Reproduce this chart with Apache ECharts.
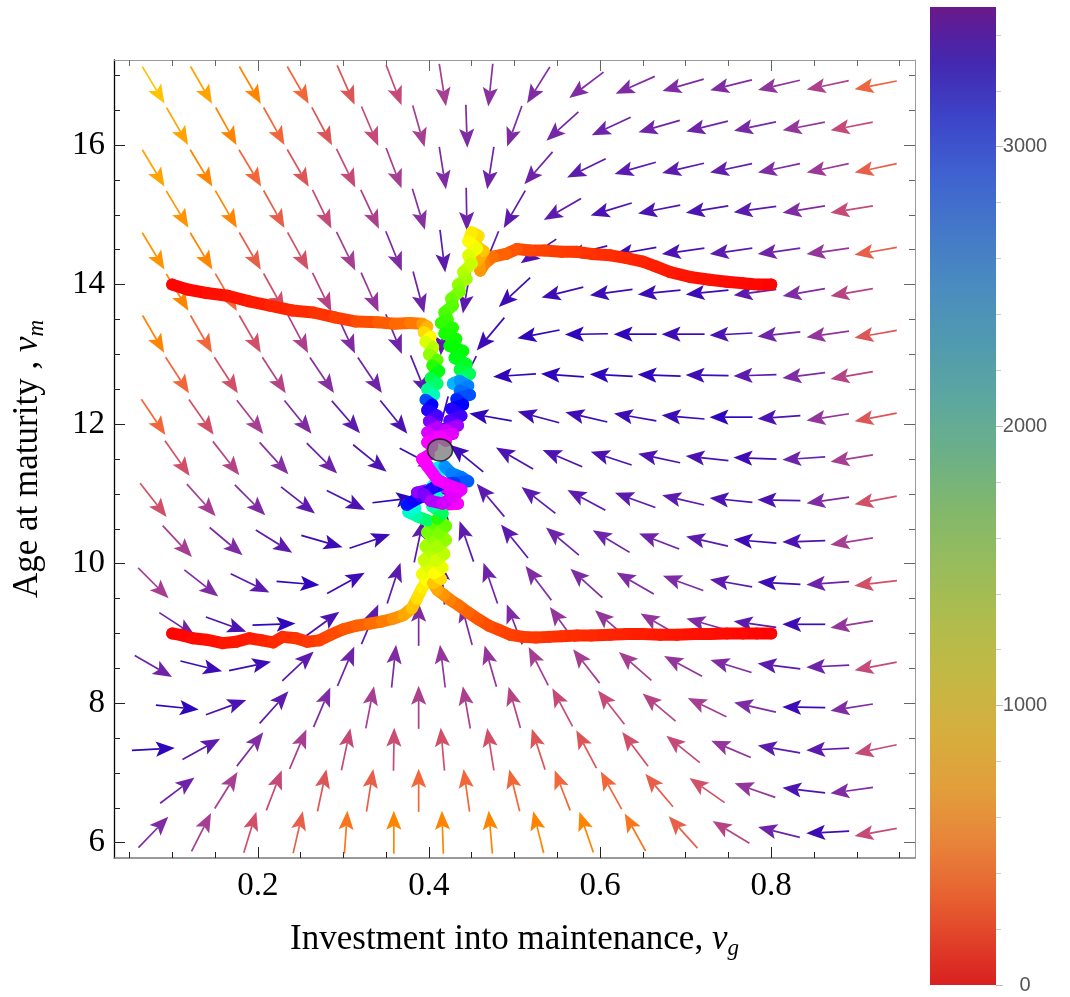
<!DOCTYPE html>
<html>
<head>
<meta charset="utf-8">
<script src="https://cdn.jsdelivr.net/npm/echarts/dist/echarts.min.js"></script>
<style>
  html, body { margin: 0; padding: 0; background: #fff; }
  #chart { width: 1070px; height: 997px; }
</style>
</head>
<body>
<div id="chart"></div>
<script>
// ---- axis ticks ----
const xMajor = [0.2, 0.4, 0.6, 0.8];
const xMinor = [0.05, 0.1, 0.15, 0.25, 0.3, 0.35, 0.45, 0.5, 0.55, 0.65, 0.7, 0.75, 0.85, 0.9, 0.95];
const yMajor = [6, 8, 10, 12, 14, 16];
const yMinor = [6.5, 7, 7.5, 8.5, 9, 9.5, 10.5, 11, 11.5, 12.5, 13, 13.5, 14.5, 15, 15.5, 16.5, 17];
const cbarMajor = [0, 1000, 2000, 3000];
const cbarMinor = [200, 400, 600, 800, 1200, 1400, 1600, 1800, 2200, 2400, 2600, 2800, 3200, 3400];

// ---- vector field grid (staggered rows) ----
const rowY = [16.86, 16.27, 15.67, 15.08, 14.48, 13.89, 13.29, 12.70, 12.10, 11.51,
              10.91, 10.32, 9.72, 9.13, 8.53, 7.94, 7.34, 6.75, 6.15];
const longCols = [0.078, 0.134, 0.191, 0.247, 0.303, 0.359, 0.416, 0.472,
                  0.528, 0.584, 0.641, 0.697, 0.753, 0.809, 0.866, 0.922];
const shortCols = [0.106, 0.163, 0.219, 0.275, 0.331, 0.388, 0.444, 0.500,
                   0.556, 0.613, 0.669, 0.725, 0.781, 0.838, 0.894];

// arrow direction on screen, degrees (0 = right, 90 = up)
const arrowAngle = [
  [-59,-60,-60,-60,-66,-69,-81,-96,-122,-143,-156,-164,-166,-167,-168,-169],
  [-60,-61,-61,-62,-67,-74,-88,-110,-138,-155,-164,-166,-168,-169,-169],
  [-59,-59,-59,-60,-64,-69,-81,-99,-131,-154,-164,-167,-168,-168,-168,-168],
  [-59,-60,-61,-64,-65,-73,-89,-120,-150,-163,-169,-171,-172,-171,-171],
  [-59,-59,-60,-61,-64,-68,-83,-112,-146,-166,-170,-172,-172,-172,-172,-170],
  [-59,-60,-61,-64,-66,-75,-100,-137,-166,-172,-174,-174,-172,-170,-170],
  [-60,-60,-60,-62,-65,-68,-95,-130,-169,-179,180,180,-177,-174,-172,-170],
  [-57,-57,-57,-56,-56,-68,-117,-176,176,177,178,179,-178,-173,-170],
  [-56,-55,-52,-51,-49,-51,-105,170,165,167,170,175,180,-176,-171,-169],
  [-55,-52,-48,-45,-39,-28,141,150,157,162,168,174,178,-176,-171],
  [-52,-48,-45,-38,-27,7,105,130,142,152,160,167,174,179,-172,-169],
  [-47,-40,-32,-16,19,78,109,129,140,149,159,167,175,-178,-171],
  [-45,-38,-26,-5,29,72,95,109,127,138,150,160,170,177,-176,-173],
  [-33,-20,2,36,67,90,105,111,126,139,150,164,172,180,-171],
  [-30,-14,12,43,67,84,97,106,117,128,139,152,163,173,-177,-169],
  [-6,20,48,67,79,90,100,106,118,128,140,154,167,179,-171],
  [3,29,52,67,78,89,95,99,108,118,127,141,157,170,-177,-168],
  [37,58,69,78,81,90,98,104,111,119,130,145,161,173,-172],
  [46,63,73,77,86,90,92,95,104,109,119,132,149,166,-177,-170]
];

// arrow colour level 0 (yellow-orange) .. 10 (blue)
const arrowLevel = [
  [0,1,2,3,4,5,6,6.7,7,7,7,7,7,6.6,5.8,3.2],
  [1,2,3,4,5,6,7,7,7.3,7.5,7.5,7.5,7.2,6.5,5],
  [1,2,3,4,5,6,7,7.5,7.5,8,8,8,7.8,7,6.3,3.5],
  [1.5,2,3.5,5,5.8,6.8,7.5,8,8,8.5,8.5,8.5,8,7,5],
  [1.5,2,3.5,4.5,6,7,8,8,8.5,9,9,8.5,8,7.5,6.5,3.5],
  [2,3,4.5,5.5,6.5,7.5,8,9,9,9,9,9,8,7,5.5],
  [2,3,4.5,5.8,7,7.5,8,9,9.5,9.5,9.5,9,8.5,7.5,6.5,4],
  [3,4.5,5.5,6.8,7.5,8,8.5,9.5,9.5,9.5,9.5,9,8,7,5.5],
  [3,4.5,6,7,8,8.5,9,9.5,9,9,9,9,9.5,8.5,6.5,4],
  [4.5,5.5,6.8,7.5,8.5,9,9,8.5,8.5,8.5,8.5,8.5,9,7.5,6],
  [4.5,6,7,8,8.5,9.5,9,8,8,8,8,8,8.5,8.5,7,4.5],
  [6,7,8,9,9,8,8,8,7.5,7.5,7.5,8,9,8.5,6],
  [6,7,8,9.5,9,8,8,7.5,7,7,7,7,8,9,7.5,4.5],
  [7.5,8.5,9.5,8.5,8,7,7,7,6.5,6.5,6.5,7,8,9,6.5],
  [7.5,9,9,8,7.5,7,6.5,6.5,6,6,6,6.5,7,8,7.5,5],
  [9.5,8.5,8,7,6,5.8,5.8,5.5,5,5,5.5,6,7,9,7],
  [9.5,8,7,6,5,4.8,4.5,4.5,4,4,4.5,5,6.5,8,8,5],
  [7.5,6,5,4,3.5,3,3,3,3,3,3.5,4.5,6.5,8.5,7],
  [7,6,4.5,3.5,2.5,2,2,2,2,2,2.5,3.5,5.5,7.5,9,5]
];

// ---- stochastic trajectories: [vg, vm, time] ----
const trajA = [
  [0.100,14.00,0],[0.118,13.93,10],[0.140,13.88,25],[0.165,13.84,40],[0.190,13.76,55],
  [0.214,13.70,75],[0.240,13.63,95],[0.265,13.60,115],[0.290,13.53,140],[0.315,13.47,170],
  [0.340,13.46,210],[0.360,13.44,250],[0.378,13.45,290],[0.392,13.44,330],
  [0.398,13.40,420],[0.394,13.32,500],[0.402,13.25,600],[0.396,13.18,700],[0.405,13.10,800],
  [0.400,13.00,900],[0.410,12.92,1000],[0.404,12.84,1150],[0.412,12.76,1300],[0.402,12.66,1450],
  [0.410,12.58,1600],[0.398,12.50,1700],[0.406,12.42,1800],[0.396,12.35,1900],[0.404,12.28,2600],
  [0.398,12.20,2800],[0.410,12.12,2900],[0.400,12.04,3000],[0.410,11.96,3150],[0.398,11.88,3300],
  [0.408,11.80,3400],[0.398,11.74,3450],[0.404,11.68,3490]
];
const trajB = [
  [0.800,14.00,0],[0.785,14.00,8],[0.767,14.02,16],[0.748,14.04,26],[0.728,14.07,36],
  [0.705,14.11,48],[0.682,14.18,60],[0.665,14.26,72],[0.650,14.33,84],[0.631,14.38,96],
  [0.612,14.42,110],[0.590,14.44,124],[0.573,14.47,138],[0.555,14.47,152],[0.535,14.49,166],
  [0.518,14.49,180],[0.503,14.51,195],[0.490,14.44,230],[0.475,14.40,270],[0.465,14.30,310],
  [0.460,14.20,350],[0.458,14.35,420],[0.464,14.48,480],[0.452,14.58,540],[0.458,14.70,580],
  [0.450,14.75,610],[0.446,14.62,650],[0.456,14.52,690],[0.446,14.42,740],[0.450,14.30,790],
  [0.440,14.18,850],[0.444,14.08,900],[0.434,14.00,950],[0.436,13.90,1000],[0.426,13.80,1060],
  [0.428,13.70,1110],[0.418,13.60,1160],[0.422,13.50,1200],[0.414,13.45,1230],
  [0.428,13.38,1260],[0.418,13.30,1300],[0.432,13.22,1330],[0.424,13.12,1360],[0.440,13.05,1390],
  [0.430,12.95,1420],[0.444,12.86,1460],[0.436,12.78,1500],[0.448,12.72,1560],[0.438,12.64,1650],
  [0.428,12.58,1750],[0.436,12.62,2300],[0.446,12.55,2400],[0.436,12.48,2450],[0.448,12.42,2500],
  [0.432,12.36,2580],[0.440,12.28,2700],[0.426,12.22,2800],[0.438,12.12,2900],[0.424,12.05,2980],
  [0.434,11.98,3050],[0.420,11.92,3250],[0.428,11.86,3350],[0.412,11.82,3420],[0.420,11.76,3480]
];
const trajC = [
  [0.100,9.00,0],[0.112,8.97,10],[0.124,8.93,20],[0.140,8.91,32],[0.159,8.86,45],
  [0.175,8.88,58],[0.190,8.93,70],[0.205,8.90,85],[0.218,8.87,100],[0.229,8.95,115],
  [0.245,8.93,130],[0.258,8.88,145],[0.272,8.90,160],[0.285,8.98,180],[0.300,9.06,205],
  [0.315,9.11,235],[0.331,9.14,270],[0.345,9.17,305],[0.358,9.21,345],[0.370,9.26,400],
  [0.380,9.36,460],[0.386,9.50,540],[0.392,9.65,620],
  [0.398,9.75,660],[0.392,9.85,700],[0.400,9.95,740],[0.394,10.05,800],[0.404,10.15,850],
  [0.396,10.25,900],[0.406,10.35,950],[0.398,10.45,1000],[0.408,10.55,1080],[0.398,10.62,1150],
  [0.386,10.68,1700],[0.376,10.74,1850],[0.384,10.80,1950],[0.374,10.84,2000],[0.382,10.90,2750],
  [0.392,10.96,2850],[0.386,11.02,2950],[0.400,11.06,3200],[0.418,11.10,3350],[0.432,11.02,3400],
  [0.424,10.92,3440],[0.434,10.86,3460],[0.412,10.84,3480],[0.400,10.95,3500]
];
const trajD = [
  [0.800,9.00,0],[0.783,9.00,8],[0.767,9.00,16],[0.748,9.00,25],[0.728,8.99,34],
  [0.710,8.99,43],[0.690,8.98,52],[0.670,8.98,61],[0.650,8.99,70],[0.631,8.99,80],
  [0.612,8.98,90],[0.590,8.97,100],[0.573,8.97,110],[0.555,8.96,120],[0.540,8.95,130],
  [0.525,8.94,140],[0.510,8.95,150],[0.495,8.98,162],[0.482,9.05,175],[0.470,9.11,190],
  [0.458,9.20,210],[0.446,9.30,240],[0.435,9.40,275],[0.425,9.48,310],[0.418,9.55,350],
  [0.410,9.62,400],[0.405,9.72,460],
  [0.414,9.78,540],[0.406,9.86,620],[0.416,9.94,700],[0.408,10.04,760],[0.418,10.14,830],
  [0.410,10.24,880],[0.420,10.34,940],[0.412,10.44,1000],[0.420,10.54,1060],[0.410,10.64,1120],
  [0.416,10.72,1300],[0.404,10.82,1650],[0.410,10.95,1850],[0.402,11.08,1950],[0.412,11.22,2050],
  [0.406,11.36,2100],[0.418,11.40,2150],[0.426,11.30,2400],[0.438,11.24,2450],[0.446,11.18,2480],
  [0.430,11.16,2550],[0.416,11.14,2650],[0.404,11.08,2800],[0.394,11.00,2900],[0.402,10.90,3150],
  [0.416,10.86,3300],[0.428,10.96,3380],[0.438,11.06,3420],[0.424,11.12,3450],[0.410,11.20,3460],
  [0.398,11.40,3480],[0.392,11.50,3490],[0.400,11.56,3500]
];
const equilibrium = [[0.413, 11.63]];

// ---- colour bar ----
const cbarMax = 3500;
const cbarStops = [
  [0,'#d82020'],[100,'#de3426'],[300,'#e65e30'],[500,'#e8823a'],[700,'#e29e3a'],
  [900,'#d6ae3e'],[1100,'#c4b844'],[1300,'#b0bc4c'],[1500,'#98bc5c'],[1700,'#82b86c'],
  [1900,'#6cb088'],[2100,'#5ca7a0'],[2300,'#509ab0'],[2500,'#4a8cc0'],[2700,'#4478c8'],
  [2900,'#3f62d0'],[3100,'#3d45c8'],[3300,'#4428b0'],[3400,'#55209f'],[3500,'#6a1a8a']
];

const arrowPalette = ['#ffc400','#ffa300','#ff8500','#f2673a','#dc5658','#c54a78',
                      '#a63e92','#7f2ca4','#5c1aae','#3e0cb6','#2200c2'];

const SERIF = '"Liberation Serif", "DejaVu Serif", serif';

// build arrow items
const arrowData = [];
rowY.forEach((y, r) => {
  const cols = r % 2 === 0 ? longCols : shortCols;
  cols.forEach((x, c) => {
    arrowData.push([x, y, arrowAngle[r][c], arrowLevel[r][c]]);
  });
});

function segments(traj) {
  return traj.map((p, i) => {
    const q = i === 0 ? p : traj[i - 1];
    return [q[0], q[1], p[0], p[1], p[2]];
  });
}

function renderArrow(params, api) {
  const c = api.coord([api.value(0), api.value(1)]);
  const a = api.value(2) * Math.PI / 180;
  const ux = Math.cos(a), uy = -Math.sin(a);
  const px = -uy, py = ux;
  const L = 43, H = 19, W = 7.6;
  const tail = [c[0] - ux * L / 2, c[1] - uy * L / 2];
  const tip = [c[0] + ux * L / 2, c[1] + uy * L / 2];
  const base = [tip[0] - ux * H, tip[1] - uy * H];
  const col = echarts.color.lerp(api.value(3) / 10, arrowPalette);
  return {
    type: 'group',
    children: [
      { type: 'line', shape: { x1: tail[0], y1: tail[1], x2: base[0] + ux * 4, y2: base[1] + uy * 4 },
        style: { stroke: col, lineWidth: 1.7 } },
      { type: 'polygon',
        shape: { points: [tip, [base[0] + px * W, base[1] + py * W],
                          [base[0] + ux * 4, base[1] + uy * 4],
                          [base[0] - px * W, base[1] - py * W]] },
        style: { fill: col } }
    ]
  };
}

function renderSeg(params, api) {
  const p1 = api.coord([api.value(0), api.value(1)]);
  const p2 = api.coord([api.value(2), api.value(3)]);
  const h = api.value(4) / cbarMax * 300;
  return {
    type: 'line',
    shape: { x1: p1[0], y1: p1[1], x2: p2[0] + 0.01, y2: p2[1] },
    style: { stroke: 'hsl(' + h + ',100%,50%)', lineWidth: 12, lineCap: 'round' }
  };
}

function trajSeries(traj) {
  return {
    type: 'custom', xAxisIndex: 0, yAxisIndex: 0,
    renderItem: renderSeg, data: segments(traj), silent: true
  };
}

const XMIN = 0.032, XMAX = 0.968, YMIN = 5.78, YMAX = 17.22;

function xAx(pos, ticks, len, labels, lineColor) {
  return {
    type: 'value', gridIndex: 0, position: pos, min: XMIN, max: XMAX,
    axisLine: { show: lineColor !== null, lineStyle: { color: lineColor || '#000', width: pos === 'bottom' ? 1.6 : 1 } },
    axisTick: { inside: true, length: len, customValues: ticks,
                lineStyle: { color: pos === 'bottom' ? '#222' : '#666', width: 1 } },
    axisLabel: labels ? {
      margin: 12, fontFamily: SERIF, fontSize: 33, color: '#000', customValues: ticks,
      formatter: v => v.toFixed(1)
    } : { show: false },
    splitLine: { show: false }
  };
}
function yAx(pos, ticks, len, labels, lineColor) {
  return {
    type: 'value', gridIndex: 0, position: pos, min: YMIN, max: YMAX,
    axisLine: { show: lineColor !== null, lineStyle: { color: lineColor || '#000', width: pos === 'left' ? 1.3 : 1 } },
    axisTick: { inside: true, length: len, customValues: ticks,
                lineStyle: { color: pos === 'left' ? '#222' : '#666', width: 1 } },
    axisLabel: labels ? {
      margin: 9, fontFamily: SERIF, fontSize: 33, color: '#000', customValues: ticks,
      formatter: v => String(v)
    } : { show: false },
    splitLine: { show: false }
  };
}

const nameRich = {
  t: { fontFamily: SERIF, fontSize: 35, color: '#000', lineHeight: 40 },
  i: { fontFamily: SERIF, fontSize: 35, fontStyle: 'italic', color: '#000', lineHeight: 40 },
  s: { fontFamily: SERIF, fontSize: 23, fontStyle: 'italic', color: '#000', lineHeight: 22, verticalAlign: 'bottom' }
};

const xMain = xAx('bottom', xMajor, 11, true, '#7a7a7a');
xMain.name = '{t|Investment into maintenance, }{i|v}{s|g}';
xMain.nameLocation = 'middle';
xMain.nameGap = 62;
xMain.nameTextStyle = { rich: nameRich };

const yMain = yAx('left', yMajor, 11, true, '#000');
yMain.name = '{t|Age at maturity , }{i|v}{s|m}';
yMain.nameLocation = 'middle';
yMain.nameGap = 66;
yMain.nameTextStyle = { rich: nameRich };

function cbarAx(ticks, len, color, labels) {
  return {
    type: 'value', gridIndex: 1, position: 'right', min: 0, max: cbarMax,
    axisLine: { show: false },
    axisTick: { show: true, inside: false, length: len, customValues: ticks, lineStyle: { color: color } },
    axisLabel: labels ? {
      margin: 29, align: 'center', color: '#555', customValues: ticks,
      fontFamily: '"Liberation Sans", Arial, sans-serif', fontSize: 20,
      formatter: v => String(v)
    } : { show: false },
    splitLine: { show: false }
  };
}

const chart = echarts.init(document.getElementById('chart'));
chart.setOption({
  animation: false,
  backgroundColor: '#fff',
  grid: [
    { left: 114, right: 155, top: 60, bottom: 139 },
    { left: 930, top: 7, width: 66, height: 978 }
  ],
  xAxis: [
    xMain,
    xAx('bottom', xMinor, 6, false, null),
    xAx('top', xMajor, 11, false, '#9a9a9a'),
    xAx('top', xMinor, 6, false, null),
    { type: 'category', gridIndex: 1, data: ['c'], show: false, boundaryGap: true }
  ],
  yAxis: [
    yMain,
    yAx('left', yMinor, 6, false, null),
    yAx('right', yMajor, 11, false, '#9a9a9a'),
    yAx('right', yMinor, 6, false, null),
    cbarAx(cbarMajor, 7, '#bbb', true),
    cbarAx(cbarMinor, 5, '#ccc', false)
  ],
  series: [
    {
      type: 'custom', xAxisIndex: 0, yAxisIndex: 0, renderItem: renderArrow,
      data: arrowData, silent: true, clip: false
    },
    trajSeries(trajC),
    trajSeries(trajD),
    trajSeries(trajA),
    trajSeries(trajB),
    {
      type: 'scatter', xAxisIndex: 0, yAxisIndex: 0, data: equilibrium,
      symbol: 'circle', symbolSize: [25, 22],
      itemStyle: { color: '#808080', borderColor: '#111', borderWidth: 1.6 }, z: 10
    },
    {
      type: 'bar', xAxisIndex: 4, yAxisIndex: 4, data: [cbarMax], barWidth: '100%', silent: true,
      itemStyle: {
        color: new echarts.graphic.LinearGradient(0, 1, 0, 0,
          cbarStops.map(s => ({ offset: s[0] / cbarMax, color: s[1] })))
      }
    }
  ]
});
</script>
</body>
</html>
